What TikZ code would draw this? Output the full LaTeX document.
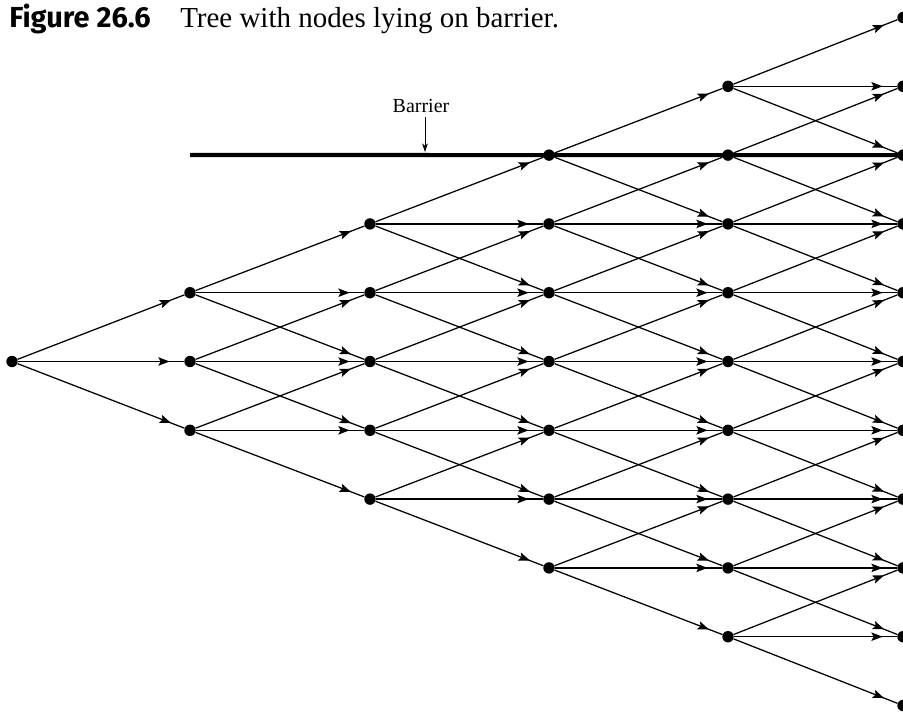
\documentclass[tikz,border=0pt]{standalone}
\usepackage{fontspec}
\setmainfont{Liberation Serif}
\newfontfamily\figfont{Fira Sans}
\usetikzlibrary{arrows.meta, decorations.markings}

\tikzset{
  treenode/.style={circle, fill=black, inner sep=0pt, minimum size=0.285cm},
  branch/.style={line width=0.9pt, postaction={decorate},
    decoration={markings, mark=at position -0.36cm with {\arrow{Stealth[length=8pt, width=6pt, inset=1.6pt]}}}},
}

\begin{document}
\begin{tikzpicture}[x=0.025cm, y=-0.025cm]
  \useasboundingbox (0,0) rectangle (903,712);
  \node[anchor=base west, inner sep=0pt, font={\fontsize{20.6}{24}\figfont\bfseries}] (figno) at (9,27) {Figure 26.6};
  \node[anchor=base west, inner sep=0pt, font={\fontsize{20.6}{24}\selectfont}] (caption) at (180,27) {Tree with nodes lying on barrier.};
  % tree nodes, column by column
  \foreach \i/\x in {0/12,1/190,2/370,3/549,4/728,5/903}{
    \pgfmathtruncatemacro{\last}{2*\i}
    \foreach \j in {0,...,\last}
      \node[treenode] (n\i-\j) at (\x, {361.5+68.8*(\j-\i)}) {};
  }
  % barrier
  \coordinate (barleft) at (190,155);
  \draw[line width=2.9pt] (barleft) -- (n5-2.center);
  \node[anchor=base, font={\fontsize{14.2}{17}\selectfont}] (barlabel) at (421,112) {Barrier};
  \coordinate (barhit) at (425,152);
  \draw[-{Stealth[length=6pt, width=4pt, inset=1.5pt]}, line width=0.6pt] (barlabel.south -| barhit) -- (barhit);
  % branches
  \foreach \i in {0,...,4}{
    \pgfmathtruncatemacro{\k}{\i+1}
    \pgfmathtruncatemacro{\last}{2*\i}
    \foreach \j in {0,...,\last}{
      \pgfmathtruncatemacro{\jj}{\j+1}
      \pgfmathtruncatemacro{\jjj}{\j+2}
      \pgfmathtruncatemacro{\row}{\j-\i}
      \draw[branch] (n\i-\j) -- (n\k-\j);
      \draw[branch] (n\i-\j) -- (n\k-\jjj);
      \ifnum\row=-3 \else \draw[branch] (n\i-\j) -- (n\k-\jj); \fi
    }
  }
\end{tikzpicture}
\end{document}
